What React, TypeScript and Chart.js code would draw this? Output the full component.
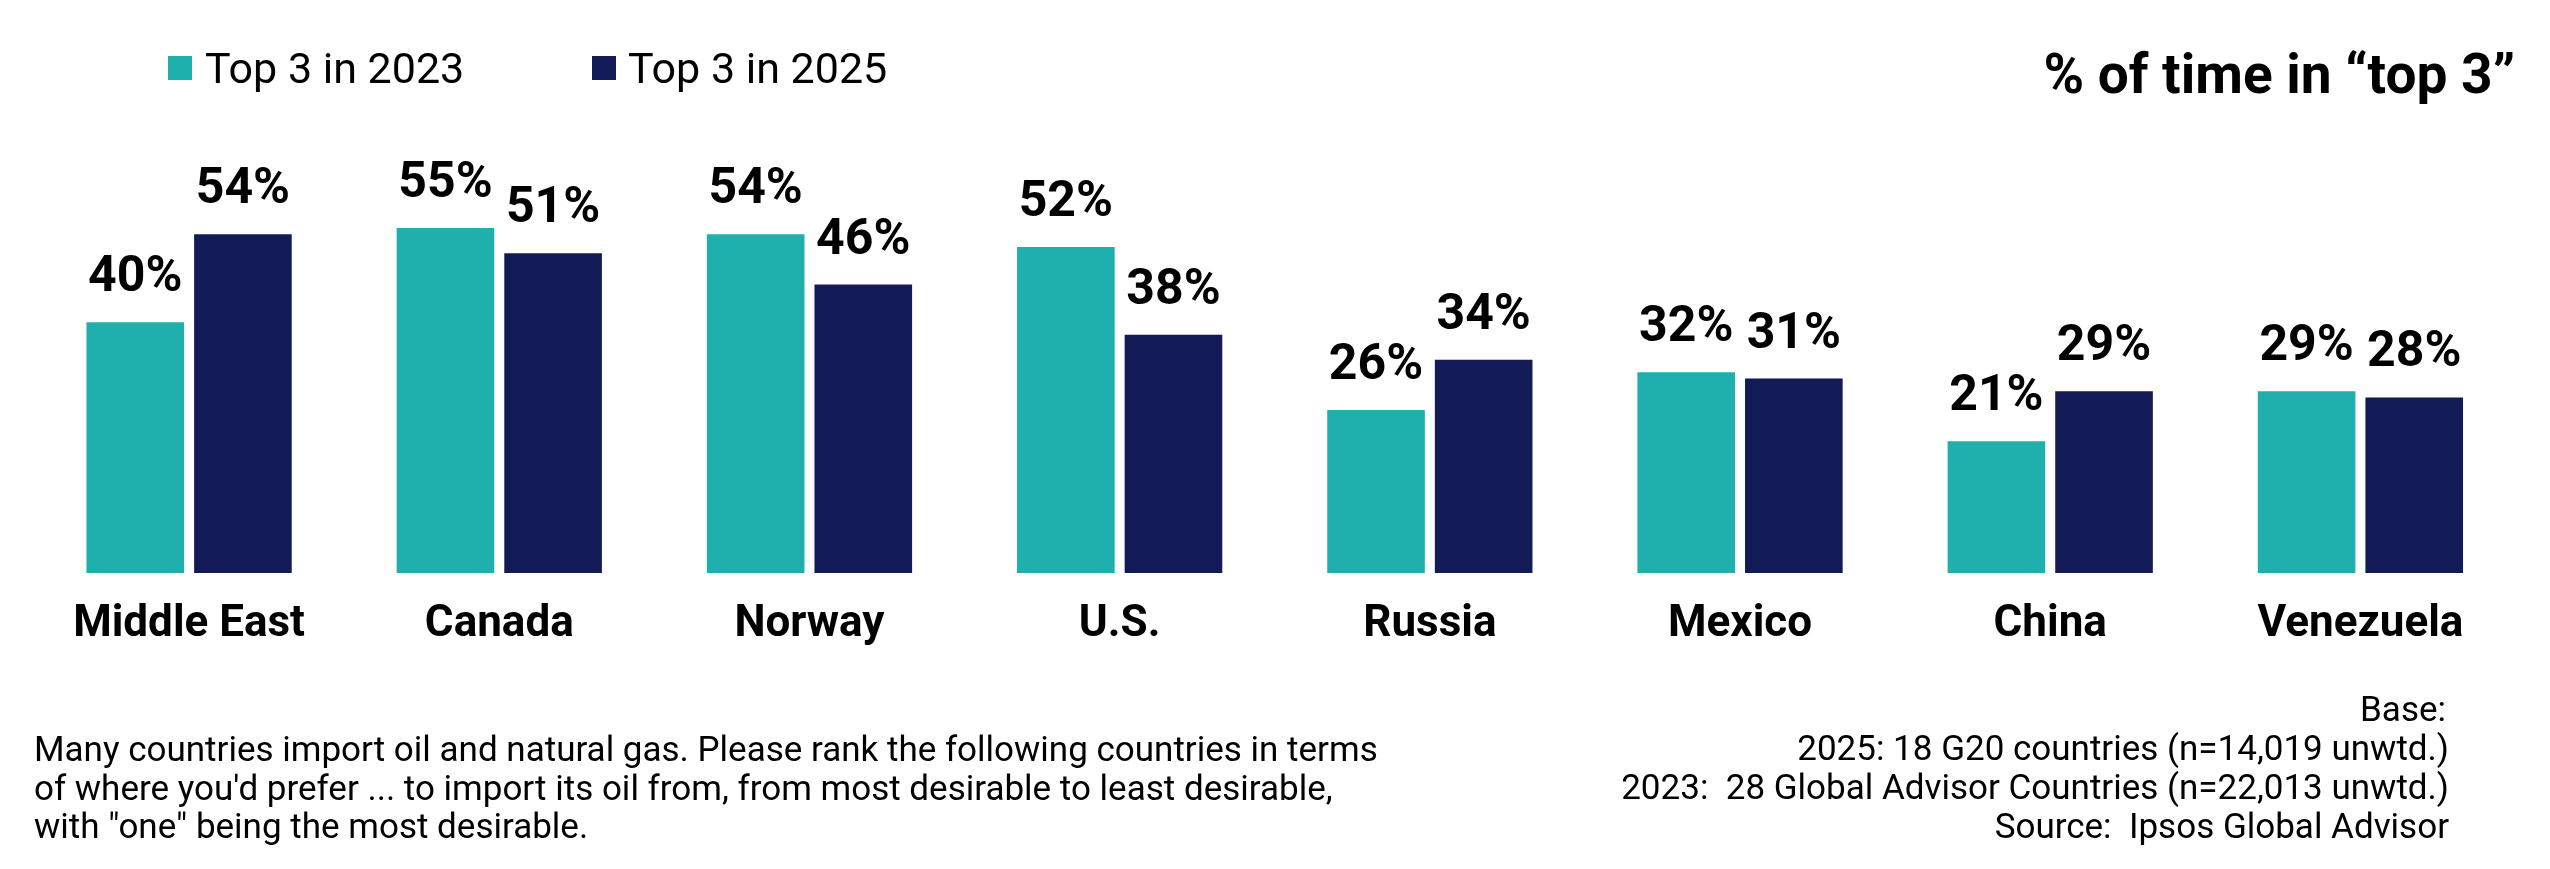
import React, { useEffect, useRef } from "react";
import { Chart, registerables } from "chart.js";

Chart.register(...registerables);

const categories = ["Middle East", "Canada", "Norway", "U.S.", "Russia", "Mexico", "China", "Venezuela"];
const top3in2023 = [40, 55, 54, 52, 26, 32, 21, 29];
const top3in2025 = [54, 51, 46, 38, 34, 31, 29, 28];
const seriesNames = ["Top 3 in 2023", "Top 3 in 2025"];
const titleText = "% of time in \u201Ctop 3\u201D";
const questionLines = [
  "Many countries import oil and natural gas. Please rank the following countries in terms",
  "of where you'd prefer ... to import its oil from, from most desirable to least desirable,",
  "with \"one\" being the most desirable.",
];
const baseLines = [
  "Base:",
  "2025: 18 G20 countries (n=14,019 unwtd.)",
  "2023:  28 Global Advisor Countries (n=22,013 unwtd.)",
  "Source:  Ipsos Global Advisor",
];

const TEAL = "#1FAFAD";
const NAVY = "#131B57";
const FONT = "Roboto, 'Noto Sans', sans-serif";

const overlayPlugin = {
  id: "overlay",
  afterDraw(chart: any) {
    const ctx = chart.ctx as CanvasRenderingContext2D;
    ctx.save();
    ctx.fillStyle = "#000";
    ctx.textBaseline = "alphabetic";

    // Legend
    const legendItems = [
      { color: TEAL, sx: 168, tx: 205, text: seriesNames[0] },
      { color: NAVY, sx: 592, tx: 628, text: seriesNames[1] },
    ];
    legendItems.forEach((it) => {
      ctx.fillStyle = it.color;
      ctx.fillRect(it.sx, 56, 24, 24);
      ctx.fillStyle = "#000";
      ctx.font = `400 43px ${FONT}`;
      ctx.textAlign = "left";
      ctx.fillText(it.text, it.tx, 83);
    });

    // Title
    ctx.font = `700 55px ${FONT}`;
    ctx.textAlign = "right";
    ctx.fillText(titleText, 2515, 93);

    // Value labels
    ctx.font = `700 50px ${FONT}`;
    ctx.textAlign = "center";
    chart.data.datasets.forEach((ds: any, di: number) => {
      const meta = chart.getDatasetMeta(di);
      meta.data.forEach((bar: any, i: number) => {
        ctx.fillText(`${ds.data[i]}%`, bar.x, bar.y - 31);
      });
    });

    // Category labels
    const xScale = chart.scales.x;
    ctx.font = `700 44px ${FONT}`;
    categories.forEach((c, i) => {
      ctx.fillText(c, xScale.getPixelForValue(i), 636);
    });

    // Footnotes
    ctx.font = `400 35px ${FONT}`;
    ctx.textAlign = "left";
    const qBase = [761, 800, 838];
    questionLines.forEach((l, i) => ctx.fillText(l, 34, qBase[i]));
    ctx.textAlign = "right";
    const bBase = [721, 760, 799, 838];
    baseLines.forEach((l, i) => ctx.fillText(l, i === 0 ? 2446 : 2449, bBase[i]));

    ctx.restore();
  },
};

export default function App() {
  const ref = useRef<HTMLCanvasElement | null>(null);
  useEffect(() => {
    if (!ref.current) return;
    const chart = new Chart(ref.current, {
      type: "bar",
      data: {
        labels: categories,
        datasets: [
          { label: seriesNames[0], data: top3in2023, backgroundColor: TEAL, categoryPercentage: 0.694, barPercentage: 0.907 },
          { label: seriesNames[1], data: top3in2025, backgroundColor: NAVY, categoryPercentage: 0.694, barPercentage: 0.907 },
        ],
      },
      options: {
        animation: false,
        responsive: false,
        devicePixelRatio: 1,
        layout: { padding: { left: 34, right: 34.5, top: 134, bottom: 296 } },
        plugins: { legend: { display: false }, tooltip: { enabled: false } },
        scales: {
          x: { display: false, grid: { display: false } },
          y: { display: false, min: 0, max: 70, grid: { display: false } },
        },
      },
      plugins: [overlayPlugin],
    });
    return () => chart.destroy();
  }, []);
  return (
    <div style={{ position: "absolute", left: 0, top: 0, width: 2550, height: 869, background: "#fff" }}>
      <canvas ref={ref} width={2550} height={869} style={{ width: 2550, height: 869, display: "block" }} />
    </div>
  );
}
